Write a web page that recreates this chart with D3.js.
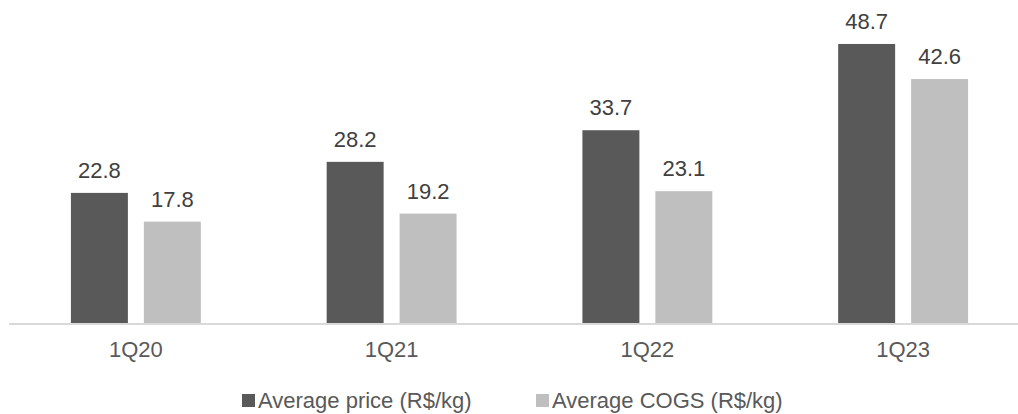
<!DOCTYPE html>
<html>
<head>
<meta charset="utf-8">
<script src="https://cdn.jsdelivr.net/npm/d3@7"></script>
<style>
  html, body { margin: 0; padding: 0; background: #fff; }
  svg { display: block; font-family: Arial, "Liberation Sans", sans-serif; }
</style>
</head>
<body>
<svg id="chart" width="1018" height="414"></svg>
<script>
// Quarterly average price vs average cost of goods sold (R$/kg)
const categories = ["1Q20", "1Q21", "1Q22", "1Q23"];
const seriesNames = ["Average price (R$/kg)", "Average COGS (R$/kg)"];
const avgPrice = [22.8, 28.2, 33.7, 48.7];
const avgCogs = [17.8, 19.2, 23.1, 42.6];
const seriesColors = ["#595959", "#bfbfbf"];

const seriesValues = [avgPrice, avgCogs];
const rows = categories.map((c, i) => ({
  cat: c,
  values: seriesNames.map((s, j) => ({ key: s, idx: j, value: seriesValues[j][i] }))
}));

const svg = d3.select("#chart");
const baseY = 324;

const x0 = d3.scaleBand().domain(categories).range([8, 1031]).paddingInner(0.492).paddingOuter(0.246);
const x1 = d3.scaleBand().domain(seriesNames).range([0, x0.bandwidth()]).paddingInner(0.219);
const y = d3.scaleLinear().domain([0, 50]).range([baseY, baseY - 287.5]);

// bars
const groups = svg.append("g").selectAll("g")
  .data(rows).join("g")
  .attr("transform", d => `translate(${x0(d.cat)},0)`);

groups.selectAll("rect")
  .data(d => d.values).join("rect")
  .attr("x", d => x1(d.key))
  .attr("y", d => y(d.value))
  .attr("width", x1.bandwidth())
  .attr("height", d => y(0) - y(d.value))
  .attr("fill", d => seriesColors[d.idx]);

// value labels
groups.selectAll("text")
  .data(d => d.values).join("text")
  .attr("x", d => x1(d.key) + x1.bandwidth() / 2)
  .attr("y", d => y(d.value) - 15)
  .attr("text-anchor", "middle")
  .attr("font-size", 22)
  .attr("fill", "#404040")
  .text(d => d.value.toFixed(1));

// category axis
const xAxis = svg.append("g")
  .attr("transform", `translate(0,${baseY})`)
  .call(d3.axisBottom(x0).tickSize(0).tickPadding(0));
xAxis.select(".domain").attr("stroke", "#d9d9d9").attr("stroke-width", 2).attr("d", "M9,0H1018");
xAxis.selectAll("text")
  .attr("dy", null)
  .attr("y", 33)
  .attr("font-size", 22)
  .attr("fill", "#595959")
  .attr("font-family", "Arial, 'Liberation Sans', sans-serif");

// legend
const legendPos = [242, 536];
const legend = svg.append("g").selectAll("g")
  .data(seriesNames).join("g")
  .attr("transform", (d, i) => `translate(${legendPos[i]},394)`);
legend.append("rect")
  .attr("width", 13).attr("height", 13)
  .attr("fill", (d, i) => seriesColors[i]);
legend.append("text")
  .attr("x", 16).attr("y", 14)
  .attr("font-size", 22)
  .attr("fill", "#595959")
  .text(d => d);
</script>
</body>
</html>
